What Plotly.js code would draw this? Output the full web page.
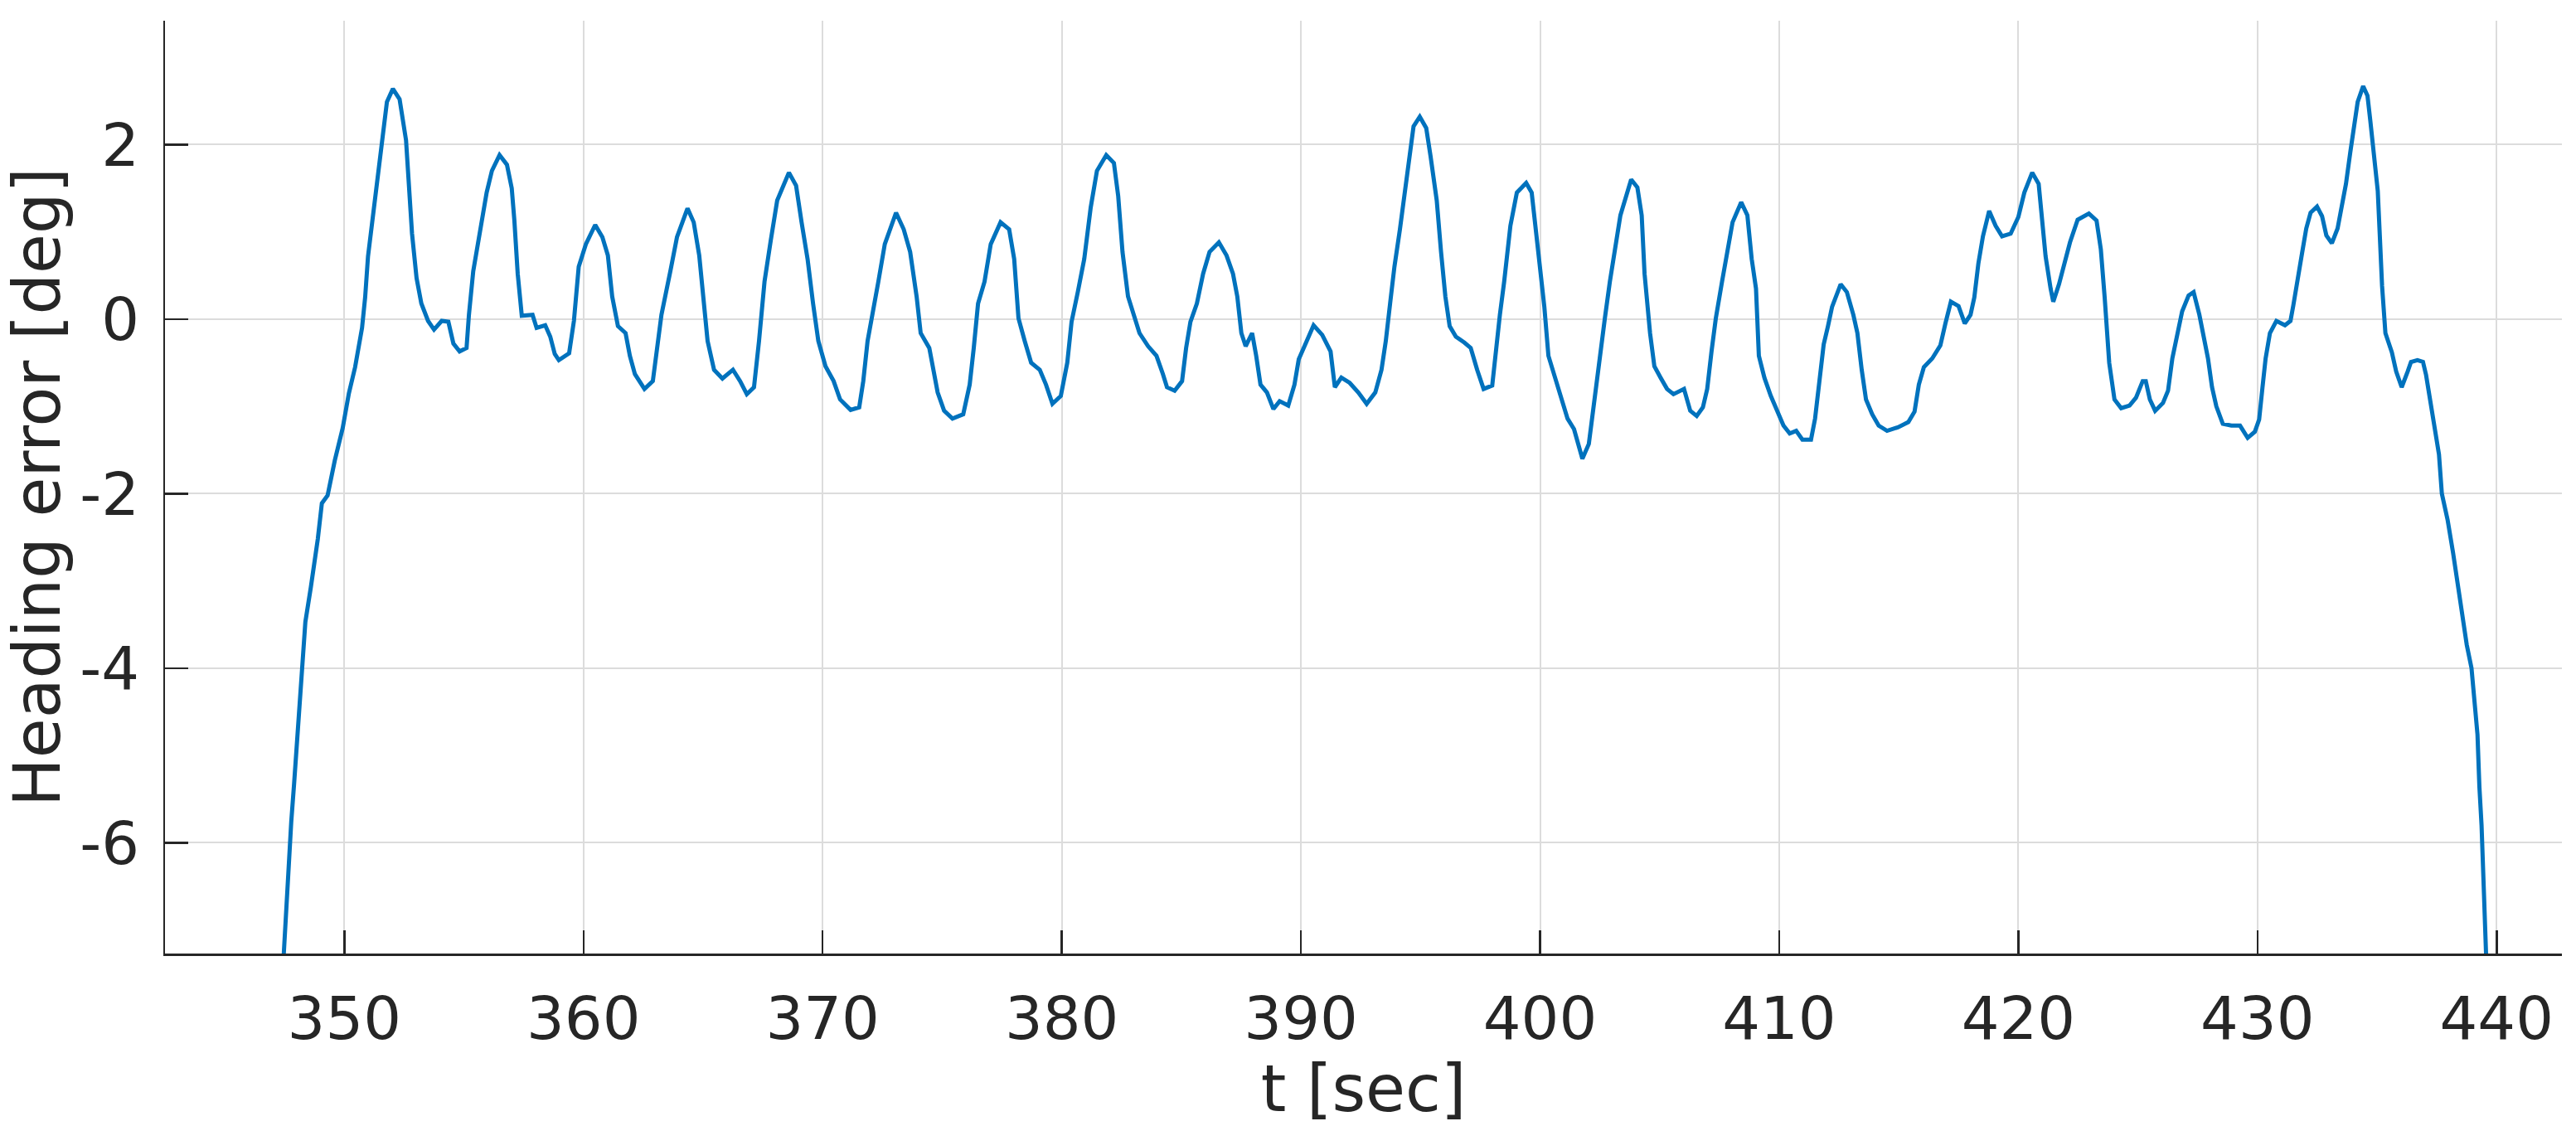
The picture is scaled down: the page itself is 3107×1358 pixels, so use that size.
<!DOCTYPE html>
<html>
<head>
<meta charset="utf-8">
<script src="https://cdn.plot.ly/plotly-3.0.1.min.js"></script>
<style>
  html, body { margin: 0; padding: 0; background: #ffffff; }
  #chart { width: 3107px; height: 1358px; }
</style>
</head>
<body>
<div id="chart"></div>
<script>
// Time [sec]
const t = [
  347.40, 347.59, 347.69, 347.78, 347.90, 347.99, 348.10, 348.20, 348.37, 348.60,
  348.89, 349.06, 349.30, 349.60, 349.93, 350.19, 350.45, 350.74, 350.87, 350.99,
  351.20, 351.40, 351.58, 351.78, 352.03, 352.31, 352.58, 352.72, 352.83, 353.02,
  353.22, 353.50, 353.75, 354.07, 354.35, 354.56, 354.82, 355.11, 355.21, 355.39,
  355.65, 355.95, 356.17, 356.49, 356.80, 357.00, 357.11, 357.25, 357.42, 357.87,
  358.04, 358.40, 358.61, 358.80, 358.97, 359.40, 359.60, 359.80, 360.10, 360.49,
  360.79, 361.02, 361.20, 361.44, 361.76, 361.94, 362.15, 362.55, 362.90, 363.08,
  363.26, 363.64, 363.91, 364.35, 364.61, 364.84, 365.02, 365.19, 365.46, 365.81,
  366.25, 366.55, 366.83, 367.13, 367.34, 367.57, 367.83, 368.10, 368.59, 368.89,
  369.12, 369.37, 369.60, 369.82, 370.12, 370.46, 370.73, 371.17, 371.53, 371.70,
  371.88, 372.06, 372.33, 372.60, 373.07, 373.39, 373.66, 373.93, 374.10, 374.46,
  374.64, 374.81, 375.08, 375.43, 375.88, 376.15, 376.32, 376.50, 376.77, 377.03,
  377.44, 377.80, 378.01, 378.19, 378.45, 378.72, 379.08, 379.34, 379.61, 379.96,
  380.23, 380.41, 380.67, 380.94, 381.21, 381.47, 381.86, 382.18, 382.36, 382.54,
  382.77, 382.98, 383.25, 383.61, 383.96, 384.23, 384.40, 384.72, 385.03, 385.20,
  385.38, 385.65, 385.91, 386.18, 386.57, 386.89, 387.16, 387.34, 387.51, 387.69,
  387.96, 388.13, 388.31, 388.58, 388.85, 389.11, 389.47, 389.73, 389.91, 390.18,
  390.53, 390.89, 391.24, 391.42, 391.69, 392.04, 392.40, 392.75, 393.11, 393.37,
  393.55, 393.73, 393.91, 394.14, 394.32, 394.53, 394.71, 394.97, 395.24, 395.42,
  395.68, 395.86, 396.04, 396.22, 396.48, 396.84, 397.10, 397.37, 397.64, 398.00,
  398.14, 398.32, 398.50, 398.76, 399.03, 399.42, 399.65, 399.82, 400.00, 400.18,
  400.35, 400.62, 400.88, 401.15, 401.42, 401.59, 401.77, 402.04, 402.21, 402.35,
  402.53, 402.71, 402.92, 403.10, 403.36, 403.81, 404.07, 404.25, 404.37, 404.60,
  404.78, 405.04, 405.31, 405.58, 406.02, 406.28, 406.55, 406.81, 406.99, 407.17,
  407.35, 407.61, 407.79, 408.05, 408.41, 408.67, 408.85, 409.03, 409.15, 409.38,
  409.65, 409.91, 410.18, 410.44, 410.71, 410.97, 411.33, 411.50, 411.68, 411.86,
  412.04, 412.21, 412.57, 412.83, 413.10, 413.27, 413.45, 413.63, 413.89, 414.16,
  414.51, 414.96, 415.40, 415.66, 415.84, 416.05, 416.40, 416.74, 416.95, 417.18,
  417.50, 417.76, 418.00, 418.16, 418.33, 418.52, 418.78, 419.05, 419.32, 419.68,
  420.00, 420.25, 420.58, 420.85, 420.99, 421.14, 421.35, 421.46, 421.70, 421.90,
  422.16, 422.48, 422.95, 423.27, 423.45, 423.61, 423.80, 424.02, 424.30, 424.65,
  424.92, 425.20, 425.33, 425.50, 425.72, 426.05, 426.26, 426.44, 426.58, 426.85,
  427.12, 427.33, 427.57, 427.75, 427.93, 428.10, 428.28, 428.55, 428.91, 429.27,
  429.59, 429.89, 430.07, 430.21, 430.34, 430.52, 430.79, 431.15, 431.38, 431.50,
  431.68, 431.86, 432.04, 432.22, 432.49, 432.70, 432.88, 433.11, 433.35, 433.52,
  433.70, 433.88, 434.06, 434.19, 434.42, 434.60, 434.72, 434.90, 435.03, 435.12,
  435.21, 435.35, 435.62, 435.80, 436.03, 436.28, 436.42, 436.69, 436.92, 437.05,
  437.17, 437.32, 437.46, 437.59, 437.71, 437.95, 438.18, 438.52, 438.75, 438.95,
  439.10, 439.20, 439.28, 439.37, 439.46, 439.55, 439.60
];
// Heading error [deg]
const headingError = [
  -7.60, -6.60, -6.16, -5.76, -5.32, -4.96, -4.50, -4.02, -3.47, -3.07,
  -2.52, -2.11, -2.02, -1.62, -1.25, -0.85, -0.55, -0.10, 0.25, 0.72,
  1.18, 1.62, 2.05, 2.49, 2.64, 2.52, 2.05, 1.50, 0.98, 0.47,
  0.18, -0.02, -0.12, -0.02, -0.03, -0.28, -0.37, -0.33, 0.05, 0.55,
  0.95, 1.45, 1.70, 1.88, 1.77, 1.50, 1.13, 0.52, 0.04, 0.05,
  -0.10, -0.07, -0.20, -0.40, -0.47, -0.39, -0.02, 0.60, 0.86, 1.08,
  0.94, 0.73, 0.26, -0.08, -0.16, -0.42, -0.63, -0.80, -0.71, -0.33,
  0.05, 0.56, 0.94, 1.27, 1.11, 0.73, 0.18, -0.25, -0.58, -0.68,
  -0.58, -0.71, -0.86, -0.78, -0.25, 0.43, 0.90, 1.36, 1.68, 1.53,
  1.11, 0.69, 0.18, -0.25, -0.54, -0.71, -0.92, -1.04, -1.01, -0.71,
  -0.25, 0.05, 0.43, 0.86, 1.22, 1.03, 0.77, 0.26, -0.16, -0.33,
  -0.58, -0.84, -1.05, -1.14, -1.09, -0.75, -0.33, 0.18, 0.43, 0.86,
  1.11, 1.03, 0.69, 0.01, -0.25, -0.50, -0.58, -0.75, -0.97, -0.88,
  -0.50, -0.03, 0.31, 0.69, 1.28, 1.70, 1.88, 1.79, 1.41, 0.77,
  0.26, 0.09, -0.16, -0.31, -0.42, -0.63, -0.78, -0.82, -0.71, -0.33,
  -0.03, 0.18, 0.52, 0.77, 0.88, 0.73, 0.52, 0.26, -0.16, -0.31,
  -0.16, -0.42, -0.75, -0.84, -1.03, -0.94, -0.99, -0.75, -0.46, -0.29,
  -0.07, -0.18, -0.37, -0.78, -0.67, -0.73, -0.84, -0.97, -0.84, -0.58,
  -0.25, 0.18, 0.60, 1.03, 1.41, 1.87, 2.21, 2.32, 2.19, 1.87,
  1.36, 0.77, 0.26, -0.08, -0.20, -0.27, -0.33, -0.58, -0.80, -0.76,
  -0.37, 0.05, 0.43, 1.07, 1.45, 1.56, 1.45, 1.03, 0.69, 0.14,
  -0.42, -0.67, -0.92, -1.14, -1.26, -1.43, -1.60, -1.43, -1.05, -0.75,
  -0.37, 0.01, 0.43, 0.77, 1.19, 1.60, 1.51, 1.19, 0.52, -0.16,
  -0.54, -0.67, -0.80, -0.86, -0.80, -1.05, -1.11, -1.01, -0.80, -0.37,
  0.01, 0.43, 0.73, 1.11, 1.34, 1.19, 0.69, 0.35, -0.42, -0.67,
  -0.88, -1.05, -1.22, -1.31, -1.28, -1.38, -1.38, -1.14, -0.75, -0.29,
  -0.08, 0.14, 0.40, 0.31, 0.05, -0.16, -0.58, -0.92, -1.09, -1.22,
  -1.28, -1.24, -1.18, -1.06, -0.75, -0.55, -0.45, -0.30, -0.05, 0.20,
  0.15, -0.05, 0.05, 0.25, 0.64, 0.95, 1.24, 1.07, 0.95, 0.98,
  1.17, 1.45, 1.68, 1.55, 1.15, 0.72, 0.35, 0.20, 0.40, 0.62,
  0.88, 1.14, 1.21, 1.13, 0.80, 0.25, -0.50, -0.92, -1.02, -0.99,
  -0.90, -0.71, -0.71, -0.92, -1.05, -0.96, -0.82, -0.45, -0.27, 0.09,
  0.27, 0.31, 0.05, -0.20, -0.45, -0.78, -1.00, -1.20, -1.22, -1.22,
  -1.36, -1.29, -1.15, -0.78, -0.45, -0.16, -0.02, -0.07, -0.02, 0.16,
  0.49, 0.75, 1.04, 1.22, 1.29, 1.18, 0.96, 0.87, 1.04, 1.29,
  1.55, 1.91, 2.27, 2.49, 2.67, 2.56, 2.27, 1.84, 1.47, 0.93,
  0.38, -0.16, -0.38, -0.60, -0.78, -0.60, -0.49, -0.47, -0.49, -0.64,
  -0.85, -1.07, -1.29, -1.55, -2.00, -2.30, -2.68, -3.31, -3.73, -4.00,
  -4.42, -4.76, -5.36, -5.80, -6.50, -7.25, -7.60
];
// Axis ticks
const xTickVals = [350, 360, 370, 380, 390, 400, 410, 420, 430, 440];
const xTickText = ["350", "360", "370", "380", "390", "400", "410", "420", "430", "440"];
const yTickVals = [-6, -4, -2, 0, 2];
const yTickText = ["-6", "-4", "-2", "0", "2"];

const FONT = "DejaVu Sans, Liberation Sans, sans-serif";
const DARK = "#262626";

const trace = {
  x: t,
  y: headingError,
  type: "scatter",
  mode: "lines",
  line: { color: "#0072BD", width: 5 },
  hoverinfo: "skip",
  showlegend: false
};

const layout = {
  width: 3107,
  height: 1358,
  margin: { l: 199, r: 17, t: 25, b: 208, pad: 0 },
  paper_bgcolor: "#ffffff",
  plot_bgcolor: "#ffffff",
  font: { family: FONT, color: DARK, size: 72 },
  showlegend: false,
  xaxis: {
    range: [342.5, 442.73],
    tickmode: "array",
    tickvals: xTickVals,
    ticktext: xTickText,
    ticks: "inside",
    ticklen: 28,
    tickwidth: 2.5,
    tickcolor: DARK,
    tickfont: { family: FONT, size: 72, color: DARK },
    ticklabelstandoff: 14,
    showline: true,
    linecolor: DARK,
    linewidth: 2.5,
    mirror: false,
    showgrid: true,
    gridcolor: "#dcdcdc",
    gridwidth: 2,
    zeroline: false,
    title: { text: "t [sec]", font: { family: FONT, size: 78, color: DARK }, standoff: 18 },
    automargin: false
  },
  yaxis: {
    range: [-7.27, 3.42],
    tickmode: "array",
    tickvals: yTickVals,
    ticktext: yTickText,
    ticks: "inside",
    ticklen: 28,
    tickwidth: 2.5,
    tickcolor: DARK,
    tickfont: { family: FONT, size: 72, color: DARK },
    ticklabelstandoff: 14,
    showline: true,
    linecolor: DARK,
    linewidth: 2.5,
    mirror: false,
    showgrid: true,
    gridcolor: "#dcdcdc",
    gridwidth: 2,
    zeroline: false,
    title: { text: "Heading error [deg]", font: { family: FONT, size: 78, color: DARK }, standoff: 12 },
    automargin: false
  }
};

Plotly.newPlot("chart", [trace], layout, { staticPlot: true, displayModeBar: false });
</script>
</body>
</html>
